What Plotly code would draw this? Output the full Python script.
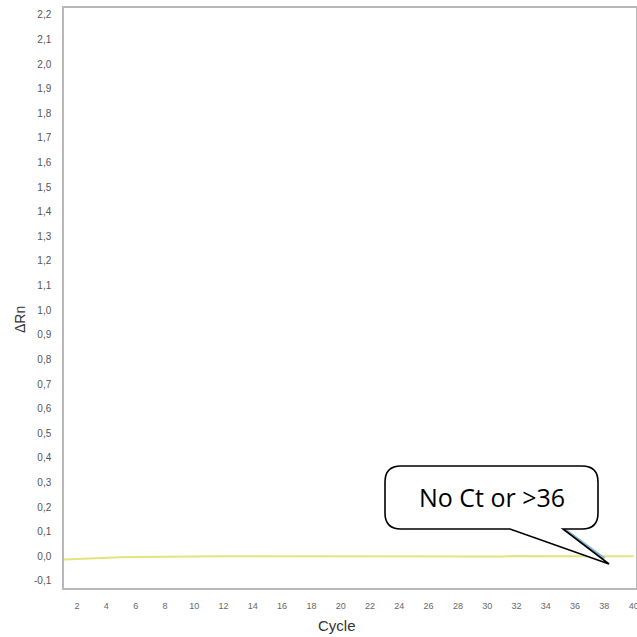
import plotly.graph_objects as go

cycles = list(range(1, 41))
delta_rn = [-0.013, -0.010, -0.007, -0.005, -0.004, -0.003, -0.002, -0.001, -0.001, 0.000,
            0.000, 0.000, 0.000, 0.000, 0.000, 0.000, 0.000, 0.000, 0.000, 0.000,
            0.000, 0.000, 0.000, 0.000, 0.000, 0.000, 0.000, 0.000, -0.002, -0.003,
            -0.001, 0.001, 0.000, -0.001, 0.000, 0.000, 0.000, 0.000, 0.000, 0.000]

y_ticks = [round(-0.1 + 0.1 * i, 1) for i in range(24)]
y_ticktext = [f"{v:.1f}".replace(".", ",") for v in y_ticks]
x_ticks = list(range(2, 41, 2))
callout_text = "No Ct or >36"

W, H = 637, 637
PL, PR, PT, PB = 64, 636, 8, 588      # plot area in page pixels
ML, MT = PL, PT
PW, PH = PR - PL, PB - PT
MR = W - ML - PW
MB = H - MT - PH

def px(x):
    return (x - PL) / PW

def py(y):
    return (PB - y) / PH

fig = go.Figure()
fig.add_trace(go.Scatter(x=cycles, y=delta_rn, mode="lines",
                         line=dict(color="#e4e47e", width=2), showlegend=False,
                         hoverinfo="skip"))

# callout geometry (page pixels)
x0, x1, y0, y1, r = 385, 598, 466, 529, 16
bl, br = 510, 563
tipx, tipy = 609, 564

def P(x, y):
    return f"{px(x):.5f},{py(y):.5f}"

path = (f"M {P(x0 + r, y0)} L {P(x1 - r, y0)} Q {P(x1, y0)} {P(x1, y0 + r)} "
        f"L {P(x1, y1 - r)} Q {P(x1, y1)} {P(x1 - r, y1)} L {P(br, y1)} "
        f"L {P(tipx, tipy)} L {P(bl, y1)} L {P(x0 + r, y1)} Q {P(x0, y1)} {P(x0, y1 - r)} "
        f"L {P(x0, y0 + r)} Q {P(x0, y0)} {P(x0 + r, y0)} Z")

shapes = [
    dict(type="line", xref="paper", yref="paper", x0=px(566), y0=py(531),
         x1=px(604), y1=py(559), line=dict(color="#86b8d6", width=4)),
    dict(type="path", xref="paper", yref="paper", path=path,
         fillcolor="white", line=dict(color="black", width=1.6)),
]

fig.update_layout(
    width=W, height=H,
    margin=dict(l=ML, r=MR, t=MT, b=MB, autoexpand=False),
    paper_bgcolor="white", plot_bgcolor="white",
    shapes=shapes,
    annotations=[
        dict(xref="paper", yref="paper", x=px(492), y=py(497), text=callout_text,
             showarrow=False, font=dict(family="Open Sans", size=25, color="black"),
             xanchor="center", yanchor="middle"),
        dict(xref="paper", yref="paper", x=px(20), y=py(320), text="ΔRn",
             showarrow=False, textangle=-90, xanchor="center", yanchor="middle",
             font=dict(family="Liberation Sans", size=14, color="#333333")),
        dict(xref="paper", yref="paper", x=px(337), y=py(625), text="Cycle",
             showarrow=False, xanchor="center", yanchor="middle",
             font=dict(family="Liberation Sans", size=15, color="#333333")),
    ],
    xaxis=dict(range=[1.11, 40.16], tickvals=x_ticks, ticks="", showgrid=False,
               zeroline=False, showline=True, linecolor="#b8b8b8", linewidth=1.5,
               mirror=True, ticklabelstandoff=8, ticklabeloverflow="allow",
               tickfont=dict(family="Liberation Sans", size=9, color="#666666")),
    yaxis=dict(range=[-0.129, 2.228], tickvals=y_ticks, ticktext=y_ticktext,
               ticks="", showgrid=False, zeroline=False, showline=True,
               linecolor="#b8b8b8", linewidth=1.5, mirror=True, ticklabelstandoff=9,
               tickfont=dict(family="Liberation Sans", size=10, color="#555555")),
)

fig.write_html(
    "out.html",
    config={"displayModeBar": False},
    post_script="document.body.style.margin='0';document.body.style.overflow='hidden';",
)
